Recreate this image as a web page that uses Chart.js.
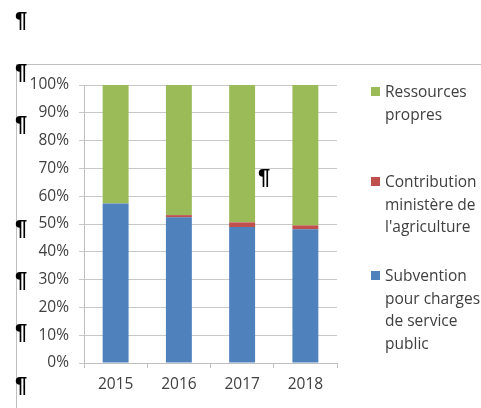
<!DOCTYPE html>
<html>
<head>
<meta charset="utf-8">
<script src="https://cdn.jsdelivr.net/npm/chart.js@4"></script>
<style>
  html, body { margin: 0; padding: 0; background: #fff; }
  #wrap { position: relative; width: 481px; height: 408px; overflow: hidden; font-family: "Open Sans", "Liberation Sans", sans-serif; }
  #frame { position: absolute; left: 16px; top: 64px; width: 480px; height: 360px; border-top: 1px solid #bfbfbf; border-left: 1px solid #bfbfbf; }
  #cv { position: absolute; left: 0; top: 0; }
  .pil { position: absolute; font-family: "Liberation Sans", sans-serif; font-weight: bold; font-size: 22px; line-height: 22px; color: #000; }
  .leg { position: absolute; left: 371px; font-size: 15.5px; color: #404040; line-height: 22.5px; }
  .leg .sw { position: absolute; left: 0; top: 7px; width: 9px; height: 9px; }
  .leg .tx { position: absolute; left: 14px; top: 0; white-space: nowrap; }
</style>
</head>
<body>
<div id="wrap">
  <div id="frame"></div>
  <canvas id="cv" width="481" height="408"></canvas>
  <div id="legend"></div>
  <div id="pils"></div>
</div>
<script>
const categories = ["2015", "2016", "2017", "2018"];
const subvention = [57.4, 52.4, 48.9, 48.1];
const contribution = [0.0, 0.8, 1.7, 1.4];
const ressources = [42.6, 46.8, 49.4, 50.5];
const seriesLabels = [
  ["Subvention", "pour charges", "de service", "public"],
  ["Contribution", "ministère de", "l'agriculture"],
  ["Ressources", "propres"]
];
const seriesColors = ["#4f81bd", "#c0504d", "#9bbb59"];
const yTicks = [0, 10, 20, 30, 40, 50, 60, 70, 80, 90, 100];

const datasets = [subvention, contribution, ressources].map((d, i) => ({
  label: seriesLabels[i],
  data: d,
  backgroundColor: seriesColors[i],
  borderWidth: 0,
  categoryPercentage: 1.0,
  barPercentage: 0.41
}));

new Chart(document.getElementById('cv'), {
  type: 'bar',
  data: { labels: categories, datasets },
  options: {
    responsive: false,
    animation: false,
    devicePixelRatio: 1,
    layout: { padding: { left: 18, right: 144, top: 85, bottom: 0 } },
    plugins: { legend: { display: false }, tooltip: { enabled: false } },
    scales: {
      x: {
        stacked: true,
        grid: { display: true, drawOnChartArea: false, drawTicks: true, tickLength: 5, offset: true, color: '#bfbfbf' },
        border: { display: true, color: '#bfbfbf' },
        ticks: { color: '#404040', font: { family: 'Open Sans', size: 15.5 }, padding: 7, maxRotation: 0 },
        afterFit: (a) => { a.height = 45; }
      },
      y: {
        stacked: true,
        min: 0, max: 100,
        afterBuildTicks: (a) => { a.ticks = yTicks.map(v => ({ value: v })); },
        grid: { color: '#c8c8c8', tickLength: 5 },
        border: { display: true, color: '#bfbfbf' },
        ticks: { color: '#404040', font: { family: 'Open Sans', size: 15.5 }, padding: 10, callback: v => v + '%' },
        afterFit: (a) => { a.width = 66; }
      }
    }
  }
});

// HTML legend (reverse order, as in the reference)
const legendTops = [80, 170, 264];
const legendEl = document.getElementById('legend');
[2, 1, 0].forEach((si, k) => {
  const item = document.createElement('div');
  item.className = 'leg';
  item.style.top = legendTops[k] + 'px';
  const sw = document.createElement('div');
  sw.className = 'sw';
  sw.style.background = seriesColors[si];
  const tx = document.createElement('div');
  tx.className = 'tx';
  tx.innerHTML = seriesLabels[si].join('<br>');
  item.appendChild(sw); item.appendChild(tx);
  legendEl.appendChild(item);
});

// paragraph marks from the document
const pilPos = [[15, 9], [15, 61], [15, 113], [15, 217], [15, 269], [15, 321], [15, 374], [258, 166]];
const pilsEl = document.getElementById('pils');
pilPos.forEach(p => {
  const s = document.createElement('span');
  s.className = 'pil';
  s.style.left = p[0] + 'px';
  s.style.top = p[1] + 'px';
  s.textContent = '¶';
  pilsEl.appendChild(s);
});
</script>
</body>
</html>
